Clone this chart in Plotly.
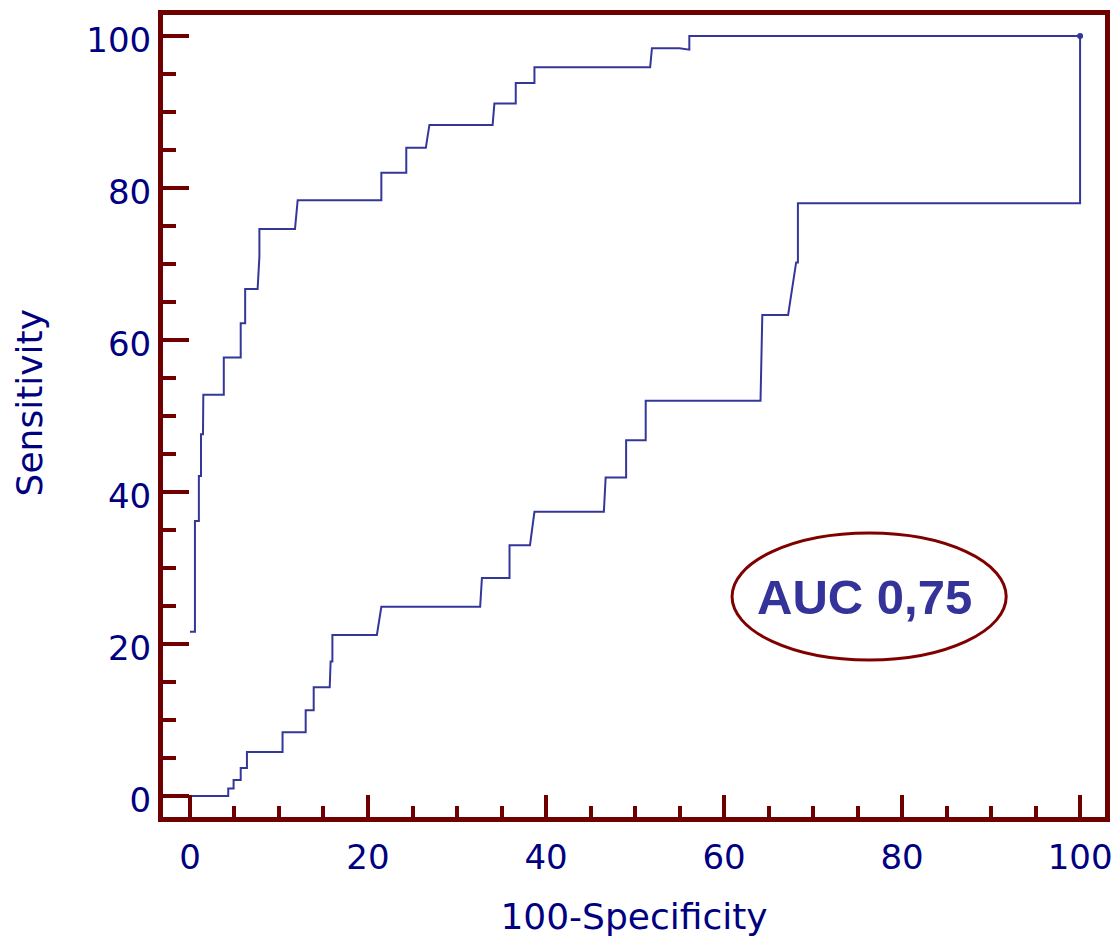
import plotly.graph_objects as go

# Lower ROC-like curve (100-Specificity, Sensitivity) vertices
lower_x = [0, 4.3, 4.3, 4.9, 4.9, 5.7, 5.7, 6.4, 6.4, 10.4, 10.4, 13.0, 13.0, 13.9, 13.9,
           15.7, 15.8, 16.0, 16.0, 21.0, 21.5, 32.6, 32.8, 35.9, 35.9, 38.2, 38.7, 46.5,
           46.7, 49.0, 49.0, 51.2, 51.2, 64.1, 64.3, 67.2, 68.1, 68.3, 68.3, 100, 100]
lower_y = [0, 0, 1.0, 1.0, 2.1, 2.1, 3.7, 3.7, 5.8, 5.8, 8.4, 8.4, 11.3, 11.3, 14.3,
           14.3, 17.7, 17.7, 21.2, 21.2, 24.9, 24.9, 28.7, 28.7, 33.0, 33.0, 37.4, 37.4,
           41.9, 41.9, 46.8, 46.8, 52.0, 52.0, 63.3, 63.3, 70.2, 70.2, 78.0, 78.0, 100]

# Upper curve vertices
upper_x = [0, 0.56, 0.56, 1.0, 1.0, 1.24, 1.24, 1.46, 1.5, 3.8, 3.8, 5.7, 5.7, 6.2, 6.2,
           7.6, 7.8, 7.8, 11.8, 12.1, 21.5, 21.5, 24.3, 24.3, 26.5, 26.9, 34.0, 34.2,
           36.6, 36.6, 38.7, 38.7, 51.7, 51.9, 55.0, 56.1, 56.1, 100]
upper_y = [21.6, 21.6, 36.2, 36.2, 42.1, 42.1, 47.6, 47.6, 52.8, 52.8, 57.7, 57.7, 62.2,
           62.2, 66.7, 66.7, 71.0, 74.6, 74.6, 78.4, 78.4, 82.0, 82.0, 85.3, 85.3, 88.3,
           88.3, 91.1, 91.1, 93.8, 93.8, 95.9, 95.9, 98.4, 98.4, 98.2, 100, 100]

end_x = [100]
end_y = [100]

x_ticks = [0, 20, 40, 60, 80, 100]
y_ticks = [0, 20, 40, 60, 80, 100]
auc_text = "AUC 0,75"
x_title = "100-Specificity"
y_title = "Sensitivity"

CURVE = "#34379a"
FRAME = "#6e0000"
NAVY = "#000080"
FONT = "DejaVu Sans"

fig = go.Figure()
fig.add_trace(go.Scatter(x=lower_x, y=lower_y, mode="lines",
                         line=dict(color=CURVE, width=2), hoverinfo="skip"))
fig.add_trace(go.Scatter(x=upper_x, y=upper_y, mode="lines",
                         line=dict(color=CURVE, width=2), hoverinfo="skip"))
fig.add_trace(go.Scatter(x=end_x, y=end_y, mode="markers",
                         marker=dict(color=CURVE, size=6), hoverinfo="skip"))

fig.add_shape(type="circle", xref="x", yref="y", x0=60.9, x1=91.7, y0=17.9, y1=34.6,
              line=dict(color="#800000", width=3), fillcolor="rgba(0,0,0,0)")
fig.add_annotation(x=75.8, y=26.2, xref="x", yref="y", text="<b>" + auc_text + "</b>",
                   showarrow=False,
                   font=dict(family="Liberation Sans, Arial", size=49, color="#333399"))

# y-axis title placed as rotated text
fig.add_annotation(x=-0.142, y=0.516, xref="paper", yref="paper", text=y_title,
                   textangle=-90, showarrow=False, xanchor="center", yanchor="middle",
                   font=dict(family=FONT, size=36, color=NAVY))

axis_common = dict(
    showgrid=False, zeroline=False, showline=True, linecolor=FRAME, linewidth=5,
    mirror=True, ticks="inside", tickcolor=FRAME, tickwidth=4, automargin=False,
    tickfont=dict(family=FONT, size=34, color=NAVY),
)

fig.update_layout(
    width=1117, height=939, autosize=False,
    margin=dict(l=163, r=12, t=15, b=122, pad=0),
    plot_bgcolor="white", paper_bgcolor="white",
    showlegend=False,
    xaxis=dict(axis_common, range=[-3.03, 102.8], tickvals=x_ticks, ticklen=22,
               ticklabelstandoff=6,
               minor=dict(dtick=5, tick0=0, ticks="inside", ticklen=11, tickwidth=3.5,
                          tickcolor=FRAME, showgrid=False),
               title=dict(text=x_title, font=dict(family=FONT, size=36, color=NAVY),
                          standoff=30)),
    yaxis=dict(axis_common, range=[-2.76, 102.76], tickvals=y_ticks, ticklen=26,
               ticklabelshift=4,
               minor=dict(dtick=5, tick0=0, ticks="inside", ticklen=13, tickwidth=3.5,
                          tickcolor=FRAME, showgrid=False)),
)

fig.write_html("out.html", post_script="document.body.style.margin='0';",
               config={"displayModeBar": False})
